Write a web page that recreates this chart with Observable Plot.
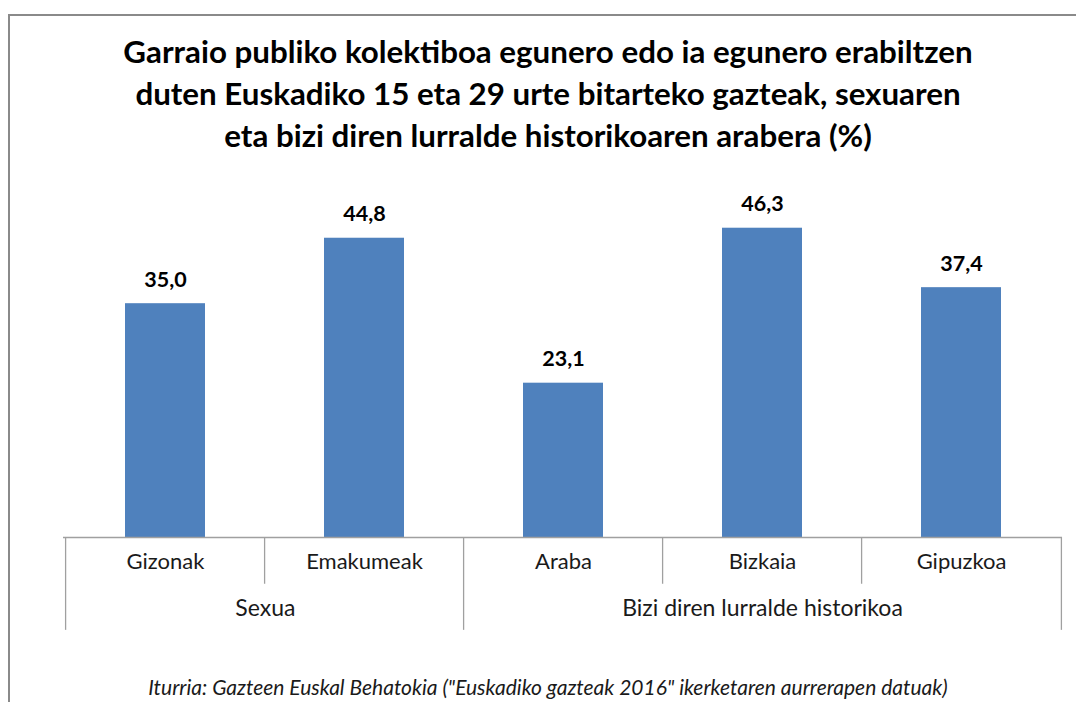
<!DOCTYPE html>
<html>
<head>
<meta charset="utf-8">
<script src="https://cdn.jsdelivr.net/npm/d3@7"></script>
<script src="https://cdn.jsdelivr.net/npm/@observablehq/plot@0.6"></script>
<style>
  html, body { margin: 0; padding: 0; background: #fff; width: 1076px; height: 702px; overflow: hidden; position: relative; font-family: Lato, "Open Sans", sans-serif; }
  #frame { position: absolute; left: 8px; top: 14px; width: 1200px; height: 800px; border-left: 2px solid #8a8a8a; border-top: 2px solid #8a8a8a; }
  #title { position: absolute; left: 0; top: 30px; width: 1096px; text-align: center; font-weight: bold; font-size: 31.3px; line-height: 42px; color: #000; }
  #chart { position: absolute; left: 0; top: 0; }
  #caption { position: absolute; left: 0; top: 674px; width: 1096px; text-align: center; font-style: italic; font-size: 21px; color: #1a1a1a; }
</style>
</head>
<body>
<div id="frame"></div>
<div id="chart"></div>
<div id="title">
  <div>Garraio publiko kolektiboa egunero edo ia egunero erabiltzen</div>
  <div>duten Euskadiko 15 eta 29 urte bitarteko gazteak, sexuaren</div>
  <div>eta bizi diren lurralde historikoaren arabera (%)</div>
</div>
<div id="caption">Iturria: Gazteen Euskal Behatokia ("Euskadiko gazteak 2016" ikerketaren aurrerapen datuak)</div>
<script>
const categories = ["Gizonak", "Emakumeak", "Araba", "Bizkaia", "Gipuzkoa"];
const values = [35.0, 44.8, 23.1, 46.3, 37.4];
const groups = ["Sexua", "Sexua", "Bizi diren lurralde historikoa", "Bizi diren lurralde historikoa", "Bizi diren lurralde historikoa"];
const groupLabels = ["Sexua", "Bizi diren lurralde historikoa"];

const data = categories.map((c, i) => ({cat: c, value: values[i], group: groups[i]}));

const W = 1076, H = 702, mL = 63, mR = 14, mT = 203, mB = 165;
const pIn = 0.6, pOut = 0.3;
const step = (W - mL - mR) / (categories.length - pIn + 2 * pOut);
const half = step / 2;

const seps = categories.map((c, i) => ({cat: c, long: i === 0 || groups[i] !== groups[i - 1]}));
const lastCat = categories[categories.length - 1];

const groupAnchors = groupLabels.map(g => {
  const idx = categories.map((c, i) => i).filter(i => groups[i] === g);
  return {label: g, first: categories[idx[0]], count: idx.length};
});

const plot = Plot.plot({
  width: W,
  height: H,
  marginLeft: mL,
  marginRight: mR,
  marginTop: mT,
  marginBottom: mB,
  style: {background: "transparent", overflow: "visible", fontFamily: "Lato, 'Open Sans', sans-serif"},
  x: {domain: categories, paddingInner: pIn, paddingOuter: pOut, axis: null},
  y: {domain: [0, 50], axis: null},
  marks: [
    Plot.barY(data, {x: "cat", y: "value", fill: "#4F81BD"}),
    Plot.text(data, {x: "cat", y: "value", text: d => d.value.toFixed(1).replace(".", ","), dy: -24, fontWeight: "bold", fontSize: 21.5, fill: "#000"}),
    Plot.ruleY([0], {stroke: "#A0A0A0", strokeWidth: 1.3}),
    Plot.ruleX(seps, {x: "cat", y1: 0, y2: d => d.long ? -13.9 : -7.0, dx: -half, stroke: "#A0A0A0", strokeWidth: 1.3}),
    Plot.ruleX([lastCat], {x: d => d, y1: 0, y2: -13.9, dx: half, stroke: "#A0A0A0", strokeWidth: 1.3}),
    Plot.text(categories, {x: d => d, frameAnchor: "bottom", dy: 31, text: d => d, fontSize: 22, fill: "#1a1a1a"}),
    Plot.text(groupAnchors.filter(g => g.count === 2), {x: "first", frameAnchor: "bottom", dy: 78, dx: half, text: "label", fontSize: 23, fill: "#1a1a1a"}),
    Plot.text(groupAnchors.filter(g => g.count === 3), {x: d => categories[categories.indexOf(d.first) + 1], frameAnchor: "bottom", dy: 78, text: "label", fontSize: 23, fill: "#1a1a1a"})
  ]
});
document.getElementById("chart").appendChild(plot);
</script>
</body>
</html>
